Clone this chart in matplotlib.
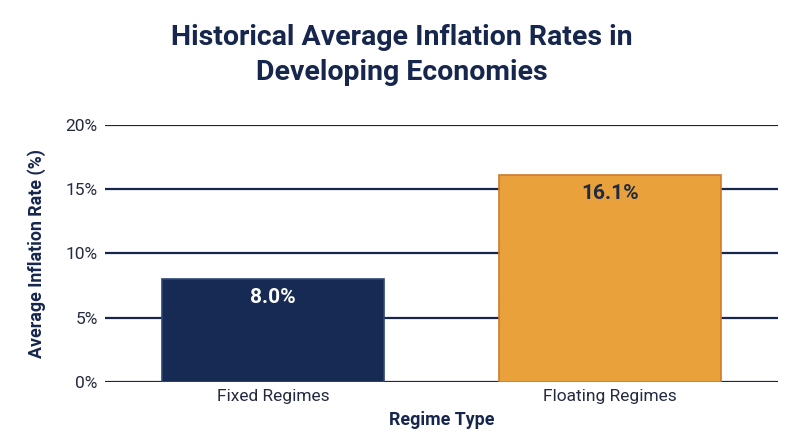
import matplotlib
matplotlib.use("Agg")
import matplotlib.pyplot as plt
from matplotlib.ticker import FuncFormatter

plt.rcParams['font.family'] = ['Roboto', 'DejaVu Sans']

categories = ['Fixed Regimes', 'Floating Regimes']
values = [8.0, 16.1]
bar_colors = ['#172a54', '#e9a23b']
edge_colors = ['#2c4675', '#d07a2a']
label_colors = ['white', '#1f2a44']

navy = '#17264d'

fig = plt.figure(figsize=(8, 4.47), dpi=100)
ax = fig.add_axes([0.131, 0.1454, 0.8415, 0.575])

ax.yaxis.grid(True, color=navy, linewidth=1.6, zorder=0)
ax.set_axisbelow(True)
x = range(len(categories))
ax.bar(x, values, width=0.66, color=bar_colors, edgecolor=edge_colors, linewidth=1.2, zorder=2)

# value labels sit just inside the top of each bar
for i, v in enumerate(values):
    ax.annotate(f'{v:.1f}%', (i, v), xytext=(0, -13.5), textcoords='offset points',
                ha='center', va='center', fontsize=15, fontweight='bold',
                color=label_colors[i], zorder=3)

ax.set_xlim(-0.5, 1.5)
ax.set_ylim(0, 20)
ax.set_yticks([0, 5, 10, 15, 20])
ax.yaxis.set_major_formatter(FuncFormatter(lambda v, p: f'{v:.0f}%'))
ax.set_xticks(list(x))
ax.set_xticklabels(categories)
ax.tick_params(axis='both', length=0, labelsize=12.5, labelcolor='#242a40', pad=5)
for s in ax.spines.values():
    s.set_visible(False)

ax.set_xlabel('Regime Type', fontsize=12.8, fontweight='bold', color=navy, labelpad=5)
ax.set_ylabel('Average Inflation Rate (%)', fontsize=12.8, fontweight='bold', color=navy, labelpad=14)

fig.text(0.502, 0.877, 'Historical Average Inflation Rates in\nDeveloping Economies',
         ha='center', va='center', fontsize=20.5, fontweight='bold', color=navy,
         linespacing=1.4)

fig.savefig('out.png', dpi=100)
